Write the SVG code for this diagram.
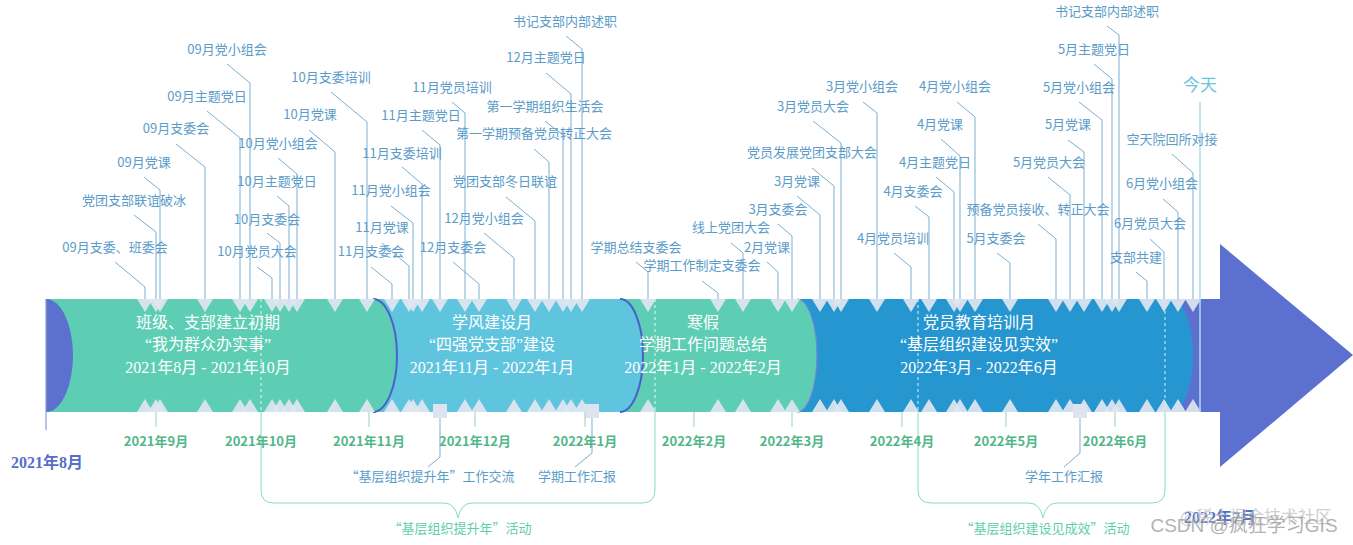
<svg xmlns="http://www.w3.org/2000/svg" width="1353" height="545" viewBox="0 0 1353 545">
<style>
.lb{font-family:"Noto Sans CJK SC","Liberation Sans",sans-serif;font-size:13px;fill:#5b9cc9;text-anchor:middle}
.bt{font-family:"Liberation Serif","Noto Sans CJK SC",serif;font-size:16px;fill:#ffffff;text-anchor:middle}
.mo{font-family:"Noto Sans CJK SC","Liberation Sans",sans-serif;font-size:13px;font-weight:bold;fill:#52b788;text-anchor:middle}
.end{font-family:"Liberation Serif","Noto Sans CJK SC",serif;font-size:16px;font-weight:bold;fill:#5470c6;text-anchor:middle}
.br{font-family:"Noto Sans CJK SC","Liberation Sans",sans-serif;font-size:13px;fill:#5fcfa8;text-anchor:middle}
.ld{fill:none;stroke:#7aafd4;stroke-width:1}
.tk{stroke:#93d3b8;stroke-width:1}
.dash{stroke:#ffffff;stroke-width:1;stroke-dasharray:3 3;opacity:0.85}
.brk{fill:none;stroke:#86dcc3;stroke-width:1}
.sq{fill:#dde4ef}
</style>
<defs>
<polygon id="td" points="-8,0 8,0 0,13" fill="#dfe6f0" opacity="0.92"/>
<polygon id="tu" points="-8,0 8,0 0,-13" fill="#dfe6f0" opacity="0.92"/>
</defs>

<g id="band">
<rect x="46" y="299" width="1175" height="113" fill="#5b70cf"/>
<polygon points="1220,244 1353,355 1220,467" fill="#5b70cf"/>
<path d="M780,299 H1171 A22,56.5 0 0 1 1171,412 H780 Z" fill="#2696d1"/>
<path d="M600,299 H797 A20,56.5 0 0 1 797,412 H600 Z" fill="#5dceb4"/>
<path d="M797,299 A20,56.5 0 0 1 797,412" fill="none" stroke="#6f86d6" stroke-width="1.2"/>
<path d="M360,299 H620 A23,56.5 0 0 1 620,412 H360 Z" fill="#5fc4de"/>
<path d="M620,299 A23,56.5 0 0 1 620,412" fill="none" stroke="#4a5fc7" stroke-width="2"/>
<path d="M46,299 H373 A24,56.5 0 0 1 373,412 H46 Z" fill="#5dceb4"/>
<path d="M373,299 A24,56.5 0 0 1 373,412" fill="none" stroke="#4a63c9" stroke-width="2"/>
<path d="M46,299 A27,56.5 0 0 1 46,412 Z" fill="#5b70cf"/>
<line class="dash" x1="261" y1="299" x2="261" y2="412"/>
<line class="dash" x1="655" y1="299" x2="655" y2="412"/>
<line class="dash" x1="918" y1="299" x2="918" y2="412"/>
<line class="dash" x1="1165" y1="299" x2="1165" y2="412"/>
</g>

<g id="phase1"><text class="bt" x="208" y="328">班级、支部建立初期</text><text class="bt" x="208" y="350">“我为群众办实事”</text><text class="bt" x="208" y="373">2021年8月 - 2021年10月</text></g>
<g id="phase2"><text class="bt" x="492" y="328">学风建设月</text><text class="bt" x="492" y="350">“四强党支部”建设</text><text class="bt" x="492" y="373">2021年11月 - 2022年1月</text></g>
<g id="phase3"><text class="bt" x="703" y="328">寒假</text><text class="bt" x="703" y="350">学期工作问题总结</text><text class="bt" x="703" y="373">2022年1月 - 2022年2月</text></g>
<g id="phase4"><text class="bt" x="979" y="328">党员教育培训月</text><text class="bt" x="979" y="350">“基层组织建设见实效”</text><text class="bt" x="979" y="373">2022年3月 - 2022年6月</text></g>

<g id="markers">
<use href="#td" x="145" y="299"/><use href="#td" x="156" y="299"/><use href="#td" x="160" y="299"/><use href="#td" x="205" y="299"/><use href="#td" x="240" y="299"/><use href="#td" x="250" y="299"/><use href="#td" x="272" y="299"/><use href="#td" x="280" y="299"/><use href="#td" x="289" y="299"/><use href="#td" x="297" y="299"/><use href="#td" x="335" y="299"/><use href="#td" x="367" y="299"/><use href="#td" x="392" y="299"/><use href="#td" x="409" y="299"/><use href="#td" x="413" y="299"/><use href="#td" x="422" y="299"/><use href="#td" x="440" y="299"/><use href="#td" x="465" y="299"/><use href="#td" x="479" y="299"/><use href="#td" x="514" y="299"/><use href="#td" x="535" y="299"/><use href="#td" x="549" y="299"/><use href="#td" x="563" y="299"/><use href="#td" x="571" y="299"/><use href="#td" x="582" y="299"/><use href="#td" x="648" y="299"/><use href="#td" x="718" y="299"/><use href="#td" x="743" y="299"/><use href="#td" x="778" y="299"/><use href="#td" x="792" y="299"/><use href="#td" x="820" y="299"/><use href="#td" x="834" y="299"/><use href="#td" x="841" y="299"/><use href="#td" x="877" y="299"/><use href="#td" x="911" y="299"/><use href="#td" x="929" y="299"/><use href="#td" x="954" y="299"/><use href="#td" x="960" y="299"/><use href="#td" x="975" y="299"/><use href="#td" x="1010" y="299"/><use href="#td" x="1056" y="299"/><use href="#td" x="1070" y="299"/><use href="#td" x="1084" y="299"/><use href="#td" x="1102" y="299"/><use href="#td" x="1112" y="299"/><use href="#td" x="1119" y="299"/><use href="#td" x="1147" y="299"/><use href="#td" x="1164" y="299"/><use href="#td" x="1178" y="299"/><use href="#td" x="1193" y="299"/>
<use href="#tu" x="145" y="412"/><use href="#tu" x="156" y="412"/><use href="#tu" x="160" y="412"/><use href="#tu" x="205" y="412"/><use href="#tu" x="240" y="412"/><use href="#tu" x="250" y="412"/><use href="#tu" x="272" y="412"/><use href="#tu" x="280" y="412"/><use href="#tu" x="289" y="412"/><use href="#tu" x="297" y="412"/><use href="#tu" x="335" y="412"/><use href="#tu" x="367" y="412"/><use href="#tu" x="392" y="412"/><use href="#tu" x="409" y="412"/><use href="#tu" x="413" y="412"/><use href="#tu" x="422" y="412"/><use href="#tu" x="465" y="412"/><use href="#tu" x="479" y="412"/><use href="#tu" x="514" y="412"/><use href="#tu" x="535" y="412"/><use href="#tu" x="549" y="412"/><use href="#tu" x="563" y="412"/><use href="#tu" x="571" y="412"/><use href="#tu" x="582" y="412"/><use href="#tu" x="648" y="412"/><use href="#tu" x="718" y="412"/><use href="#tu" x="743" y="412"/><use href="#tu" x="778" y="412"/><use href="#tu" x="792" y="412"/><use href="#tu" x="820" y="412"/><use href="#tu" x="834" y="412"/><use href="#tu" x="841" y="412"/><use href="#tu" x="877" y="412"/><use href="#tu" x="911" y="412"/><use href="#tu" x="929" y="412"/><use href="#tu" x="954" y="412"/><use href="#tu" x="960" y="412"/><use href="#tu" x="975" y="412"/><use href="#tu" x="1010" y="412"/><use href="#tu" x="1056" y="412"/><use href="#tu" x="1070" y="412"/><use href="#tu" x="1084" y="412"/><use href="#tu" x="1102" y="412"/><use href="#tu" x="1112" y="412"/><use href="#tu" x="1119" y="412"/><use href="#tu" x="1147" y="412"/><use href="#tu" x="1164" y="412"/><use href="#tu" x="1178" y="412"/><use href="#tu" x="1193" y="412"/>
<rect class="sq" x="433" y="404" width="14" height="14"/>
<rect class="sq" x="585" y="404" width="14" height="14"/>
<rect class="sq" x="1073" y="404" width="14" height="14"/>
</g>

<g id="connectors">
<polyline class="ld" points="115,262 145,287 145,299"/>
<polyline class="ld" points="134,215 156,232 156,299"/>
<polyline class="ld" points="144,177 160,190 160,299"/>
<polyline class="ld" points="176,144 205,167 205,299"/>
<polyline class="ld" points="207,111 240,138 240,299"/>
<polyline class="ld" points="227,64 250,83 250,299"/>
<polyline class="ld" points="257,267 272,278 272,299"/>
<polyline class="ld" points="267,233 280,243 280,299"/>
<polyline class="ld" points="277,196 289,206 289,299"/>
<polyline class="ld" points="278,158 297,174 297,299"/>
<polyline class="ld" points="309,130 335,152 335,299"/>
<polyline class="ld" points="331,92 367,122 367,299"/>
<polyline class="ld" points="371,267 392,284 392,299"/>
<polyline class="ld" points="382,243 409,266 409,299"/>
<polyline class="ld" points="391,206 413,223 413,299"/>
<polyline class="ld" points="402,167 422,184 422,299"/>
<polyline class="ld" points="422,130 440,145 440,299"/>
<polyline class="ld" points="452,102 465,113 465,299"/>
<polyline class="ld" points="453,262 479,284 479,299"/>
<polyline class="ld" points="484,233 514,258 514,299"/>
<polyline class="ld" points="506,197 535,221 535,299"/>
<polyline class="ld" points="534,149 549,162 549,299"/>
<polyline class="ld" points="545,121 563,135 563,299"/>
<polyline class="ld" points="546,73 571,94 571,299"/>
<polyline class="ld" points="566,36 582,49 582,299"/>
<polyline class="ld" points="636,262 648,272 648,299"/>
<polyline class="ld" points="702,281 718,293 718,299"/>
<polyline class="ld" points="731,243 743,253 743,299"/>
<polyline class="ld" points="767,262 778,272 778,299"/>
<polyline class="ld" points="778,224 792,236 792,299"/>
<polyline class="ld" points="797,196 820,215 820,299"/>
<polyline class="ld" points="812,168 834,186 834,299"/>
<polyline class="ld" points="813,121 841,143 841,299"/>
<polyline class="ld" points="863,102 877,113 877,299"/>
<polyline class="ld" points="894,253 911,267 911,299"/>
<polyline class="ld" points="915,206 929,217 929,299"/>
<polyline class="ld" points="936,177 954,192 954,299"/>
<polyline class="ld" points="941,139 960,156 960,299"/>
<polyline class="ld" points="957,102 975,117 975,299"/>
<polyline class="ld" points="997,253 1010,263 1010,299"/>
<polyline class="ld" points="1038,224 1056,239 1056,299"/>
<polyline class="ld" points="1048,177 1070,195 1070,299"/>
<polyline class="ld" points="1068,140 1084,152 1084,299"/>
<polyline class="ld" points="1079,102 1102,120 1102,299"/>
<polyline class="ld" points="1094,64 1112,79 1112,299"/>
<polyline class="ld" points="1107,26 1119,35 1119,299"/>
<polyline class="ld" points="1136,272 1147,281 1147,299"/>
<polyline class="ld" points="1150,239 1164,252 1164,299"/>
<polyline class="ld" points="1163,199 1178,212 1178,299"/>
<polyline class="ld" points="1172,154 1193,173 1193,299"/>
<line x1="1200" y1="102" x2="1200" y2="412" stroke="#a9dcea" stroke-width="1.5"/>
<polyline class="ld" points="440,418 440,457 428,467"/>
<polyline class="ld" points="592,418 592,453 575,467"/>
<polyline class="ld" points="1080,418 1080,453 1064,467"/>
<line x1="46" y1="299" x2="46" y2="430" stroke="#8d9bd8" stroke-width="1.2"/>
<line class="tk" x1="156" y1="412" x2="156" y2="427"/>
<line class="tk" x1="369" y1="412" x2="369" y2="427"/>
<line class="tk" x1="475" y1="412" x2="475" y2="427"/>
<line class="tk" x1="585" y1="412" x2="585" y2="427"/>
<line class="tk" x1="694" y1="412" x2="694" y2="427"/>
<line class="tk" x1="792" y1="412" x2="792" y2="427"/>
<line class="tk" x1="902" y1="412" x2="902" y2="427"/>
<line class="tk" x1="1006" y1="412" x2="1006" y2="427"/>
<line class="tk" x1="1115" y1="412" x2="1115" y2="427"/>
<path class="brk" d="M261,412 V490 Q261,503 274,503 H444 Q455,503 458,518 Q461,503 472,503 H642 Q655,503 655,490 V412"/>
<path class="brk" d="M918,412 V490 Q918,503 931,503 H1029 Q1040,503 1043,518 Q1046,503 1057,503 H1152 Q1165,503 1165,490 V412"/>
</g>

<g id="events">
<g id="e01"><text class="lb" x="115" y="252">09月支委、班委会</text></g>
<g id="e02"><text class="lb" x="134" y="205">党团支部联谊破冰</text></g>
<g id="e03"><text class="lb" x="144" y="167">09月党课</text></g>
<g id="e04"><text class="lb" x="176" y="133">09月支委会</text></g>
<g id="e05"><text class="lb" x="207" y="101">09月主题党日</text></g>
<g id="e06"><text class="lb" x="227" y="54">09月党小组会</text></g>
<g id="e07"><text class="lb" x="257" y="256">10月党员大会</text></g>
<g id="e08"><text class="lb" x="267" y="224">10月支委会</text></g>
<g id="e09"><text class="lb" x="277" y="186">10月主题党日</text></g>
<g id="e10"><text class="lb" x="278" y="148">10月党小组会</text></g>
<g id="e11"><text class="lb" x="310" y="119">10月党课</text></g>
<g id="e12"><text class="lb" x="331" y="82">10月支委培训</text></g>
<g id="e13"><text class="lb" x="371" y="256">11月支委会</text></g>
<g id="e14"><text class="lb" x="382" y="232">11月党课</text></g>
<g id="e15"><text class="lb" x="391" y="195">11月党小组会</text></g>
<g id="e16"><text class="lb" x="402" y="158">11月支委培训</text></g>
<g id="e17"><text class="lb" x="421" y="120">11月主题党日</text></g>
<g id="e18"><text class="lb" x="452" y="92">11月党员培训</text></g>
<g id="e19"><text class="lb" x="453" y="252">12月支委会</text></g>
<g id="e20"><text class="lb" x="484" y="223">12月党小组会</text></g>
<g id="e21"><text class="lb" x="505" y="186">党团支部冬日联谊</text></g>
<g id="e22"><text class="lb" x="534" y="138">第一学期预备党员转正大会</text></g>
<g id="e23"><text class="lb" x="545" y="111">第一学期组织生活会</text></g>
<g id="e24"><text class="lb" x="546" y="62">12月主题党日</text></g>
<g id="e25"><text class="lb" x="565" y="26">书记支部内部述职</text></g>
<g id="e26"><text class="lb" x="636" y="252">学期总结支委会</text></g>
<g id="e27"><text class="lb" x="702" y="270">学期工作制定支委会</text></g>
<g id="e28"><text class="lb" x="731" y="232">线上党团大会</text></g>
<g id="e29"><text class="lb" x="767" y="252">2月党课</text></g>
<g id="e30"><text class="lb" x="778" y="214">3月支委会</text></g>
<g id="e31"><text class="lb" x="797" y="186">3月党课</text></g>
<g id="e32"><text class="lb" x="812" y="157">党员发展党团支部大会</text></g>
<g id="e33"><text class="lb" x="813" y="111">3月党员大会</text></g>
<g id="e34"><text class="lb" x="862" y="91">3月党小组会</text></g>
<g id="e35"><text class="lb" x="893" y="243">4月党员培训</text></g>
<g id="e36"><text class="lb" x="913" y="196">4月支委会</text></g>
<g id="e37"><text class="lb" x="935" y="167">4月主题党日</text></g>
<g id="e38"><text class="lb" x="940" y="129">4月党课</text></g>
<g id="e39"><text class="lb" x="955" y="91">4月党小组会</text></g>
<g id="e40"><text class="lb" x="996" y="243">5月支委会</text></g>
<g id="e41"><text class="lb" x="1038" y="214">预备党员接收、转正大会</text></g>
<g id="e42"><text class="lb" x="1049" y="167">5月党员大会</text></g>
<g id="e43"><text class="lb" x="1068" y="129">5月党课</text></g>
<g id="e44"><text class="lb" x="1079" y="92">5月党小组会</text></g>
<g id="e45"><text class="lb" x="1094" y="54">5月主题党日</text></g>
<g id="e46"><text class="lb" x="1107" y="16">书记支部内部述职</text></g>
<g id="e47"><text class="lb" x="1136" y="262">支部共建</text></g>
<g id="e48"><text class="lb" x="1150" y="228">6月党员大会</text></g>
<g id="e49"><text class="lb" x="1162" y="188">6月党小组会</text></g>
<g id="e50"><text class="lb" x="1172" y="144">空天院回所对接</text></g>
<g id="today"><text class="lb" x="1200" y="91" style="font-size:17px;fill:#6cc3dc">今天</text></g>
<g id="b01"><text class="lb" x="430" y="481">“基层组织提升年”工作交流</text></g>
<g id="b02"><text class="lb" x="577" y="481">学期工作汇报</text></g>
<g id="b03"><text class="lb" x="1064" y="481">学年工作汇报</text></g>
</g>

<g id="axis">
<text class="mo" x="156" y="446">2021年9月</text>
<text class="mo" x="261" y="446">2021年10月</text>
<text class="mo" x="369" y="446">2021年11月</text>
<text class="mo" x="475" y="446">2021年12月</text>
<text class="mo" x="585" y="446">2022年1月</text>
<text class="mo" x="694" y="446">2022年2月</text>
<text class="mo" x="792" y="446">2022年3月</text>
<text class="mo" x="902" y="446">2022年4月</text>
<text class="mo" x="1006" y="446">2022年5月</text>
<text class="mo" x="1115" y="446">2022年6月</text>
<text class="end" x="47" y="468">2021年8月</text>
<text class="end" x="1220" y="523">2022年7月</text>
</g>

<g id="brackets">
<text class="br" x="460" y="533">“基层组织提升年”活动</text>
<text class="br" x="1045" y="533">“基层组织建设见成效”活动</text>
</g>

<g id="watermark">
<text x="1256" y="523" text-anchor="middle" font-family="'Noto Sans CJK SC','Liberation Sans',sans-serif" font-size="17" fill="#c4c4c4" opacity="0.8">@稀土掘金技术社区</text>
<text x="1244" y="532" text-anchor="middle" font-family="'Liberation Sans','Noto Sans CJK SC',sans-serif" font-size="19" fill="#9a9a9a" opacity="0.75">CSDN @疯狂学习GIS</text>
</g>
</svg>
